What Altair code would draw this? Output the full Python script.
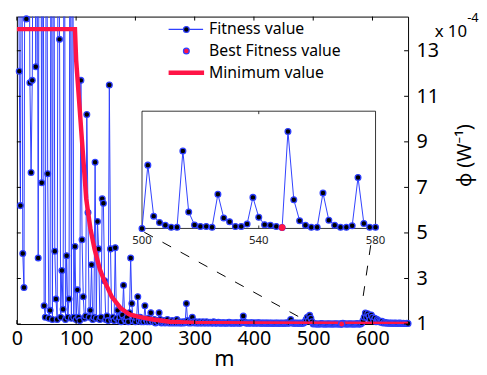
import altair as alt
import pandas as pd

# ---------------- data ----------------
m_values = list(range(2, 661, 2))
fitness = [
    25, 12.1, 6.2, 25, 4.1, 2.6, 25, 14.4, 25, 25,
    11.6, 7.65, 11.7, 25, 25, 12.3, 25, 3.9, 25, 25,
    7.2, 25, 1.8, 1.3, 25, 7.6, 1.25, 1.6, 25, 1.2,
    25, 4.2, 2.1, 1.2, 25, 13.5, 1.3, 3.35, 1.65, 25,
    1.2, 4.0, 1.3, 2.1, 25, 1.25, 25, 1.3, 4.4, 1.2,
    2.5, 1.3, 1.15, 11.7, 4.7, 2.2, 1.25, 1.35, 10.2, 5.9,
    1.3, 1.6, 3.6, 1.2, 1.3, 8.1, 1.25, 5.5, 4.3, 1.2,
    1.3, 6.5, 6.3, 2.9, 1.2, 1.35, 1.15, 11.5, 4.3, 1.2,
    1.3, 1.15, 4.35, 1.25, 1.6, 1.15, 1.3, 1.1, 1.4, 2.7,
    1.2, 1.15, 1.3, 1.1, 1.5, 3.9, 1.9, 1.15, 1.3, 1.1,
    1.25, 2.2, 1.15, 1.3, 1.1, 1.2, 1.1, 1.8, 1.2, 1.1,
    1.25, 1.1, 1.5, 1.15, 1.1, 1.2, 1.05, 1.15, 1.1, 1.5,
    1.2, 1.05, 1.1, 1.15, 1.05, 1.1, 1.2, 1.05, 1.1, 1.05,
    1.15, 1.05, 1.1, 1.05, 1.2, 1.05, 1.1, 1.05, 1.05, 1.1,
    1.05, 1.1, 1.9, 1.15, 1.05, 1.1, 1.05, 1.3, 1.1, 1.05,
    1.1, 1.05, 1.05, 1.1, 1.05, 1.05, 1.1, 1.05, 1.05, 1.1,
    1.05, 1.05, 1.08, 1.05, 1.04, 1.1, 1.05, 1.04, 1.05, 1.08,
    1.04, 1.05, 1.04, 1.06, 1.04, 1.04, 1.05, 1.04, 1.08, 1.04,
    1.04, 1.05, 1.04, 1.04, 1.06, 1.04, 1.05, 1.04, 1.04, 1.1,
    1.35, 1.1, 1.05, 1.04, 1.05, 1.04, 1.04, 1.06, 1.04, 1.04,
    1.05, 1.04, 1.04, 1.06, 1.04, 1.03, 1.04, 1.05, 1.03, 1.04,
    1.04, 1.03, 1.05, 1.03, 1.04, 1.03, 1.03, 1.05, 1.03, 1.04,
    1.03, 1.03, 1.05, 1.03, 1.03, 1.04, 1.03, 1.06, 1.03, 1.05,
    1.2, 1.06, 1.03, 1.04, 1.03, 1.05, 1.03, 1.03, 1.04, 1.03,
    1.03, 1.05, 1.1, 1.2, 1.3, 1.15, 1.38, 1.25, 1.1, 1.0,
    1.0216, 1.0042, 1.002, 1.0011, 1.0004, 1.0004, 1.0264, 1.0056, 1.0012, 1.0007,
    1.0007, 1.0004, 1.0117, 1.0036, 1.0023, 1.0007, 1.0007, 1.0015, 1.0106, 1.0038,
    1.0013, 1.0011, 1.0007, 1.0003, 1.0331, 1.0098, 1.0026, 1.0011, 1.0004, 1.0004,
    1.0121, 1.0028, 1.0011, 1.0004, 1.0004, 1.0009, 1.0174, 1.0017, 1.0004, 1.0004,
    1.05, 1.15, 1.3, 1.48, 1.3, 1.45, 1.35, 1.2, 1.4, 1.3,
    1.15, 1.25, 1.1, 1.2, 1.15, 1.1, 1.08, 1.12, 1.05, 1.08,
    1.04, 1.06, 1.03, 1.05, 1.03, 1.04, 1.03, 1.03, 1.04, 1.03,
    1.03, 1.03, 1.04, 1.03, 1.02, 1.03, 1.02, 1.02, 1.03, 1.02,
]
min_m = [0, 98, 100, 105, 110, 117, 124, 131, 140, 148, 160, 175, 190, 208, 230, 258, 300, 400, 660]
min_v = [13.95, 13.95, 12.6, 10.8, 9.0, 6.5, 5.2, 4.3, 3.4, 2.87, 2.2, 1.7, 1.42, 1.3, 1.2, 1.1, 1.05, 1.02, 1.0]
best_m = [548]
best_v = [1.0003]

x_ticks = [0, 100, 200, 300, 400, 500, 600]
y_ticks = [1, 3, 5, 7, 9, 11, 13]
inset_ticks = [500, 540, 580]
legend_labels = ["Fitness value", "Best Fitness value", "Minimum value"]

# connector lines (main-axis units): start m, start phi, end m, end phi
conn_m1 = [215, 597]
conn_v1 = [5.03, 4.46]
conn_m2 = [477, 582]
conn_v2 = [1.3, 1.82]

# ---------------- style ----------------
FONT = "Noto Sans"
BLUE = "#2f40ff"
RED = "#ff1446"
W, H = 397, 312
XDOM = [0, 660]
YDOM = [1, 14.5]
IX_DOM = [500, 580]
IY_DOM = [1.0, 1.04]

df = pd.DataFrame({"m": m_values, "v": fitness})
min_df = pd.DataFrame({"m": min_m, "v": min_v})
best_df = pd.DataFrame({"m": best_m, "v": best_v})

xs = alt.Scale(domain=XDOM, nice=False, zero=False)
ys = alt.Scale(domain=YDOM, nice=False, zero=False)

x_main = alt.X("m:Q", scale=xs, axis=alt.Axis(
    values=x_ticks, format="d", tickSize=0, domain=False, grid=False,
    labelFontSize=20, labelPadding=5, labelFlush=False,
    title="m", titleFontSize=22, titleFontWeight="normal",
    titleX=210, titleY=42, titleBaseline="alphabetic"))
y_main = alt.Y("v:Q", scale=ys, axis=alt.Axis(
    orient="right", values=y_ticks, tickSize=0, domain=False, grid=False,
    labelFontSize=20, labelPadding=8, title=None))

fit_line = alt.Chart(df).mark_line(color=BLUE, strokeWidth=1, clip=True).encode(x=x_main, y=y_main)
fit_pts = alt.Chart(df).transform_filter("datum.v <= 14.6").mark_point(
    shape="circle", filled=True, fill="black", stroke=BLUE, strokeWidth=1.3,
    size=34, opacity=1).encode(x=alt.X("m:Q", scale=xs), y=alt.Y("v:Q", scale=ys))
min_line = alt.Chart(min_df).mark_line(color=RED, strokeWidth=4.5, clip=True).encode(
    x=alt.X("m:Q", scale=xs), y=alt.Y("v:Q", scale=ys))
best_pt = alt.Chart(best_df).mark_point(
    shape="circle", filled=True, fill=RED, stroke=BLUE, strokeWidth=1.3,
    size=40, opacity=1).encode(x=alt.X("m:Q", scale=xs), y=alt.Y("v:Q", scale=ys))

# inward ticks (box style)
tlen_y = 4 * (YDOM[1] - YDOM[0]) / H
tlen_x = 4 * (XDOM[1] - XDOM[0]) / W
xt = pd.DataFrame({"m": x_ticks * 2,
                   "v": [YDOM[0]] * len(x_ticks) + [YDOM[1]] * len(x_ticks),
                   "v2": [YDOM[0] + tlen_y] * len(x_ticks) + [YDOM[1] - tlen_y] * len(x_ticks)})
yt = pd.DataFrame({"v": y_ticks * 2,
                   "m": [XDOM[0]] * len(y_ticks) + [XDOM[1]] * len(y_ticks),
                   "m2": [XDOM[0] + tlen_x] * len(y_ticks) + [XDOM[1] - tlen_x] * len(y_ticks)})
xtick_rules = alt.Chart(xt).mark_rule(color="black", strokeWidth=1).encode(
    x=alt.X("m:Q", scale=xs), y=alt.Y("v:Q", scale=ys), y2="v2:Q")
ytick_rules = alt.Chart(yt).mark_rule(color="black", strokeWidth=1).encode(
    y=alt.Y("v:Q", scale=ys), x=alt.X("m:Q", scale=xs), x2="m2:Q")

conn_df = pd.DataFrame({"m": conn_m1, "v": conn_v1, "m2": conn_m2, "v2": conn_v2})
connectors = alt.Chart(conn_df).mark_rule(color="black", strokeWidth=1, strokeDash=[10, 11]).encode(
    x=alt.X("m:Q", scale=xs), y=alt.Y("v:Q", scale=ys), x2="m2:Q", y2="v2:Q")

main = alt.layer(fit_line, fit_pts, min_line, connectors, xtick_rules, ytick_rules, best_pt)

# ---------------- inset ----------------
ixs = alt.Scale(domain=IX_DOM, range=[127, 364], nice=False, zero=False)
iys = alt.Scale(domain=IY_DOM, range=[215, 96], nice=False, zero=False)
ix = alt.X("m:Q", scale=ixs, axis=None)
iy = alt.Y("v:Q", scale=iys, axis=None)

inset_df = df[(df.m >= IX_DOM[0]) & (df.m <= IX_DOM[1])]
box_df = pd.DataFrame({"m": [IX_DOM[0]], "m2": [IX_DOM[1]], "v": [IY_DOM[0]], "v2": [IY_DOM[1]]})
inset_box = alt.Chart(box_df).mark_rect(fill="white", stroke="black", strokeWidth=0.8).encode(
    x=ix, x2="m2:Q", y=iy, y2="v2:Q")
inset_line = alt.Chart(inset_df).mark_line(color=BLUE, strokeWidth=1).encode(x=ix, y=iy)
inset_pts = alt.Chart(inset_df).mark_point(
    shape="circle", filled=True, fill="black", stroke=BLUE, strokeWidth=1.3,
    size=34, opacity=1).encode(x=ix, y=iy)
inset_best = alt.Chart(best_df).mark_point(
    shape="circle", filled=True, fill=RED, stroke=RED, strokeWidth=1,
    size=36, opacity=1).encode(x=ix, y=iy)
it_len = 3 * (IY_DOM[1] - IY_DOM[0]) / 119
it_df = pd.DataFrame({"m": [540, 540], "v": [IY_DOM[1], IY_DOM[0]],
                      "v2": [IY_DOM[1] - it_len, IY_DOM[0] + it_len]})
inset_tick = alt.Chart(it_df).mark_rule(color="black", strokeWidth=0.8).encode(x=ix, y=iy, y2="v2:Q")
il_df = pd.DataFrame({"m": inset_ticks, "v": [IY_DOM[0]] * 3, "label": [str(t) for t in inset_ticks]})
inset_labels = alt.Chart(il_df).mark_text(fontSize=11.5, dy=13, color="#222", font=FONT).encode(
    x=ix, y=iy, text="label:N")

inset = alt.layer(inset_box, inset_tick, inset_line, inset_pts, inset_best, inset_labels)

# ---------------- legend & annotations ----------------
def one(label):
    return pd.DataFrame({"label": [label]})

LEG_Y = [13, 35, 57]
leg = []
leg.append(alt.Chart(one(legend_labels[0])).mark_rule(color=BLUE, strokeWidth=1.2).encode(
    x=alt.value(154), x2=alt.value(189), y=alt.value(LEG_Y[0])))
leg.append(alt.Chart(one(legend_labels[0])).mark_point(
    shape="circle", filled=True, fill="black", stroke=BLUE, strokeWidth=1.3, size=34, opacity=1).encode(
    x=alt.value(172), y=alt.value(LEG_Y[0])))
leg.append(alt.Chart(one(legend_labels[1])).mark_point(
    shape="circle", filled=True, fill=RED, stroke=BLUE, strokeWidth=1.3, size=34, opacity=1).encode(
    x=alt.value(172), y=alt.value(LEG_Y[1])))
leg.append(alt.Chart(one(legend_labels[2])).mark_rule(color=RED, strokeWidth=4.5).encode(
    x=alt.value(154), x2=alt.value(190), y=alt.value(LEG_Y[2])))
for lab, yy in zip(legend_labels, LEG_Y):
    leg.append(alt.Chart(one(lab)).mark_text(
        align="left", baseline="middle", fontSize=16, font=FONT, color="black").encode(
        x=alt.value(195), y=alt.value(yy), text="label:N"))

exp1 = alt.Chart(one("x 10")).mark_text(align="left", baseline="middle", fontSize=17, font=FONT,
                                         color="black").encode(x=alt.value(424), y=alt.value(16), text="label:N")
exp2 = alt.Chart(one("-4")).mark_text(align="left", baseline="alphabetic", fontSize=13, font=FONT,
                                       color="black").encode(x=alt.value(457), y=alt.value(5), text="label:N")
ytitle = alt.Chart(one("ϕ (W⁻¹)")).mark_text(align="center", baseline="middle", fontSize=20, font=FONT,
                                             angle=270, color="black").encode(
    x=alt.value(455), y=alt.value(141), text="label:N")

chart = alt.layer(main, inset, *leg, exp1, exp2, ytitle).resolve_scale(
    x="independent", y="independent"
).properties(
    width=W, height=H,
    autosize=alt.AutoSizeParams(type="none"),
    padding={"left": 9, "top": 6, "right": 72, "bottom": 49},
).configure_view(
    stroke="black", strokeWidth=1
).configure_axis(
    labelFont=FONT, titleFont=FONT, labelColor="black", titleColor="black"
)

chart.save("out.html", embed_options={"renderer": "svg", "actions": False})
